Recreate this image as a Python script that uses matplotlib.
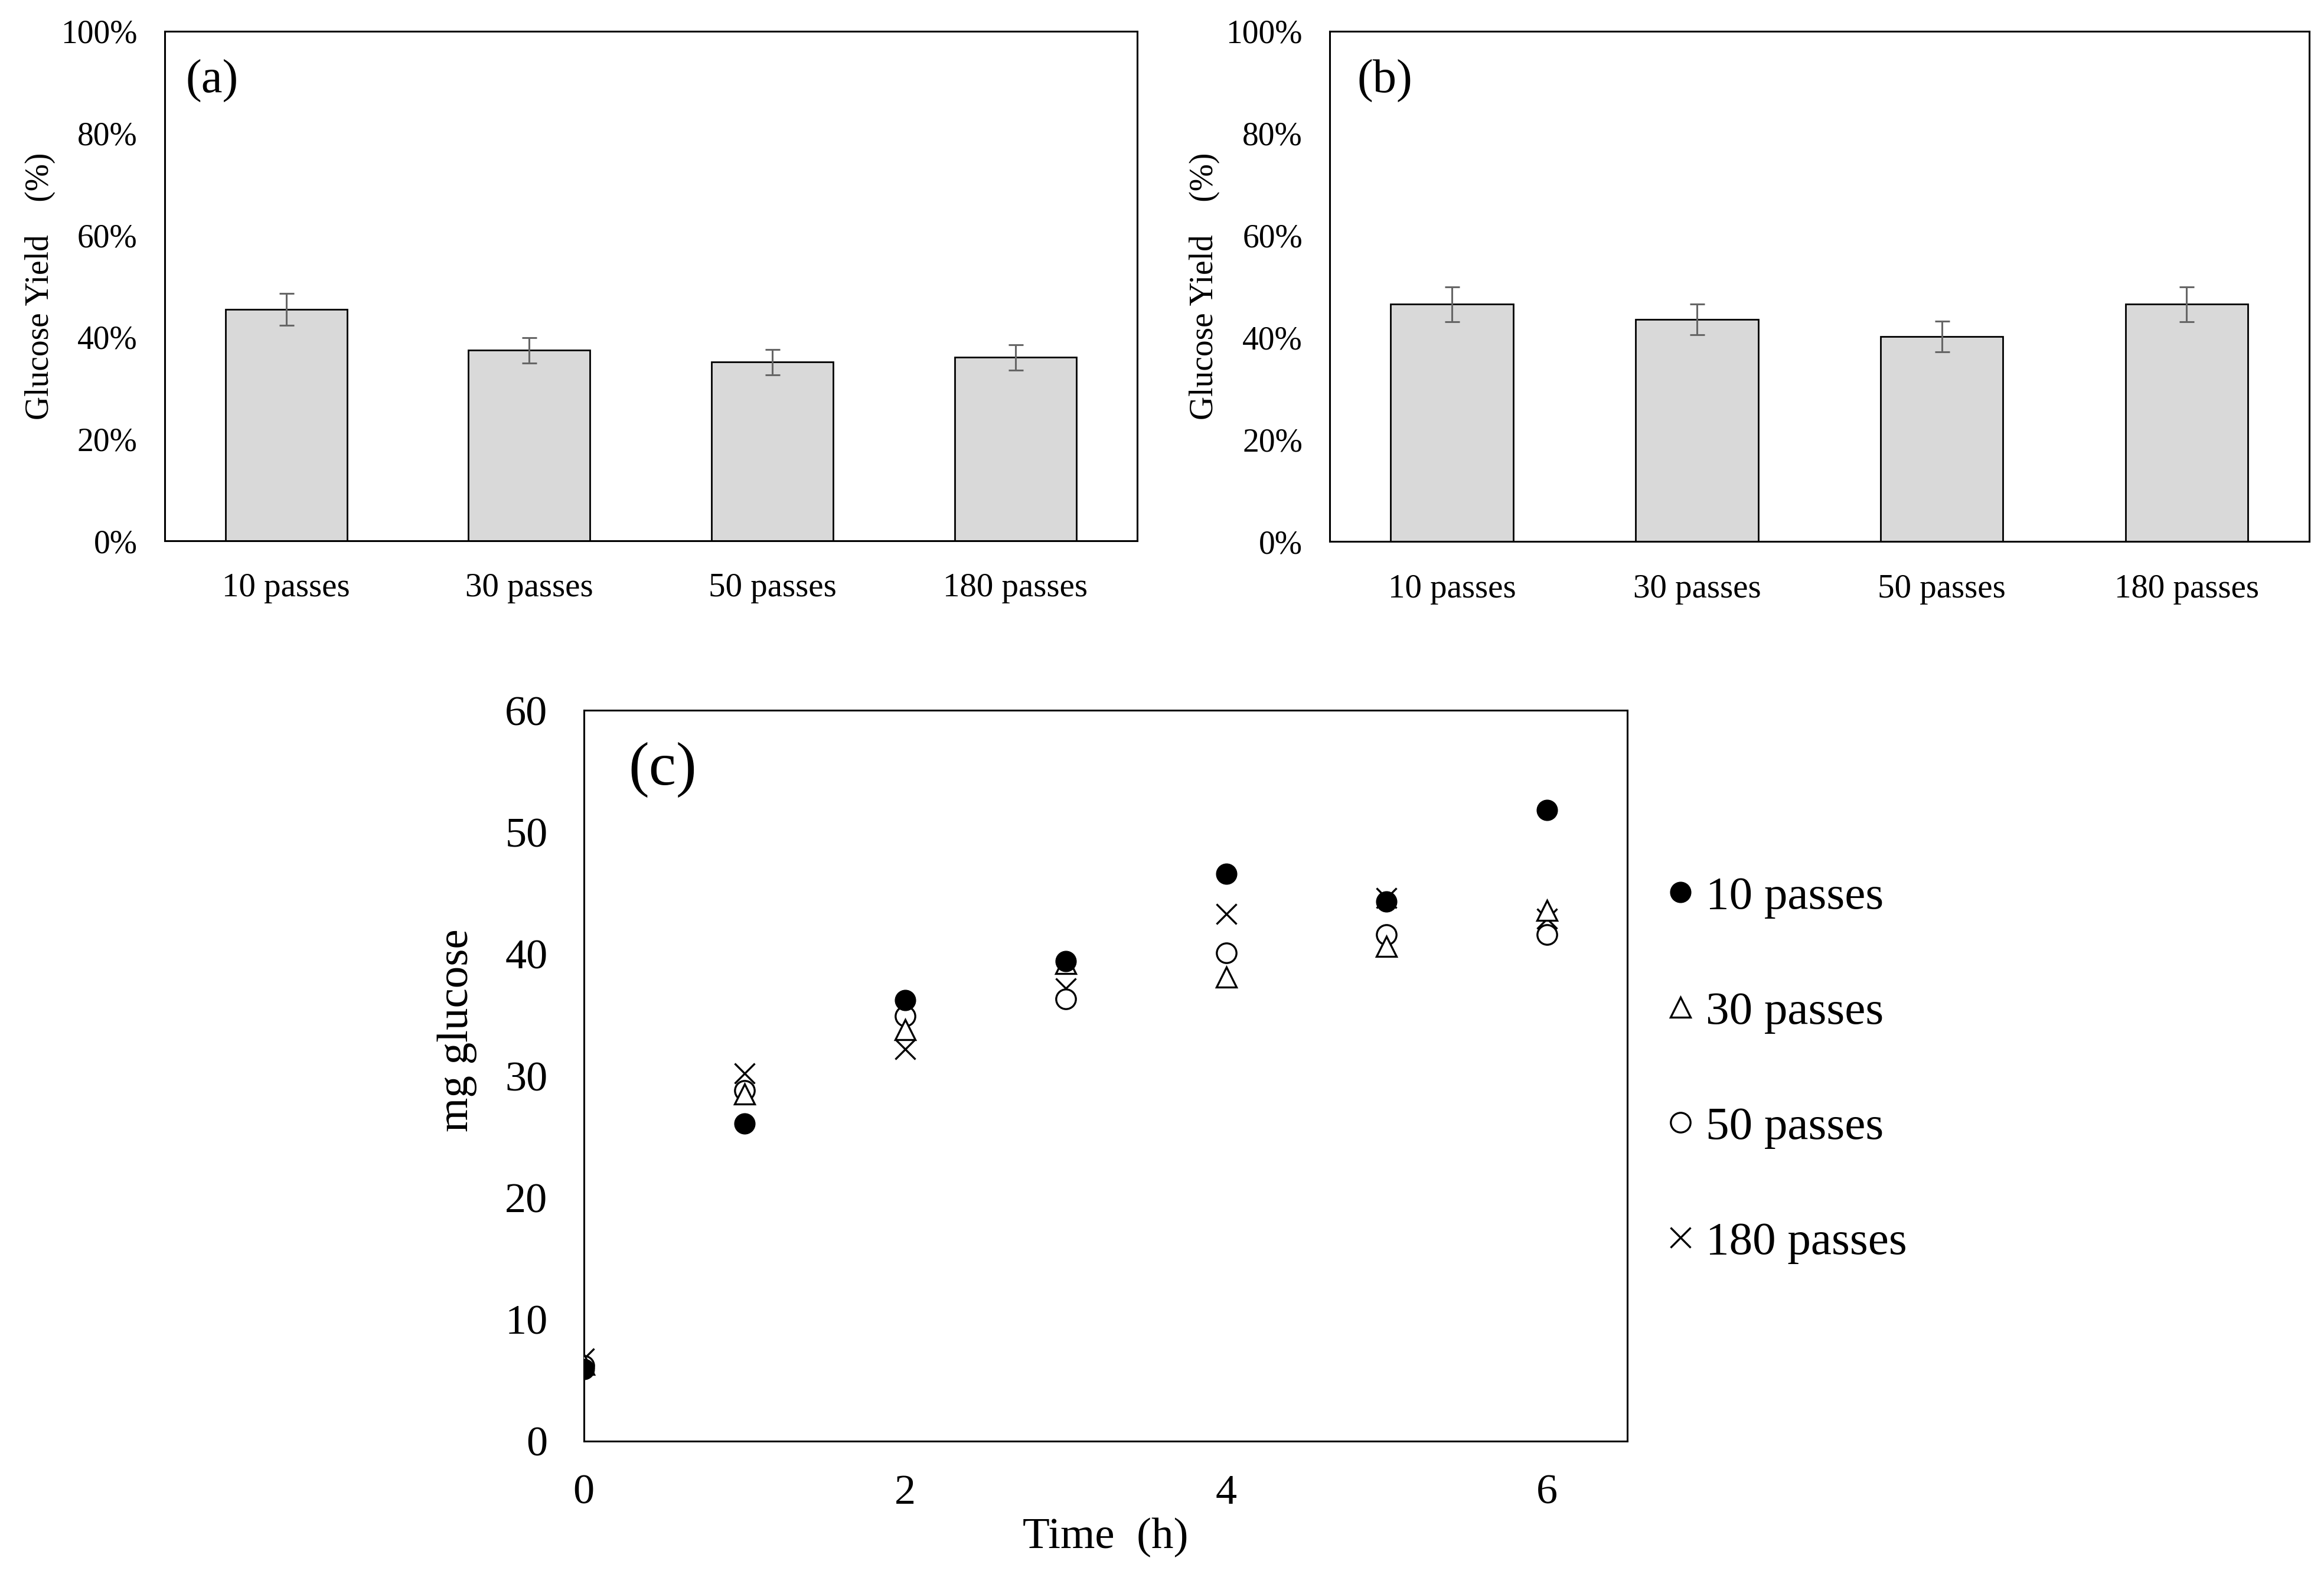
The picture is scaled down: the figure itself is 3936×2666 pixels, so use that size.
import matplotlib
matplotlib.use('Agg')
import matplotlib.pyplot as plt
from matplotlib.ticker import PercentFormatter

plt.rcParams['font.family'] = ['Liberation Serif', 'DejaVu Serif']

# bar panels (a) and (b): glucose yield in %
passes = ['10 passes', '30 passes', '50 passes', '180 passes']
yield_a = [45.4, 37.4, 35.1, 36.0]
err_a = [3.1, 2.5, 2.5, 2.5]
yield_b = [46.5, 43.5, 40.2, 46.5]
err_b = [3.4, 3.0, 3.0, 3.4]

# panel (c): mg glucose against time
time_h = [0, 1, 2, 3, 4, 5, 6]
mg_10 = [5.9, 26.1, 36.2, 39.4, 46.6, 44.3, 51.8]
mg_30 = [6.3, 28.5, 33.8, 39.2, 38.1, 40.6, 43.6]
mg_50 = [6.2, 28.8, 34.9, 36.3, 40.1, 41.6, 41.6]
mg_180 = [6.8, 30.2, 32.2, 37.2, 43.3, 44.6, 42.9]

fig = plt.figure(figsize=(39.36, 26.66), dpi=100)

def bar_panel(rect, vals, errs, tag):
    ax = fig.add_axes(rect)
    x = range(len(passes))
    ax.bar(x, vals, width=0.5, color='#d9d9d9', edgecolor='black', linewidth=2,
           yerr=errs, error_kw=dict(ecolor='#666666', elinewidth=2.2, capsize=9, capthick=2.2))
    ax.set_xlim(-0.5, 3.5)
    ax.set_ylim(0, 100)
    ax.set_xticks(list(x))
    ax.set_xticklabels(passes)
    ax.set_yticks([0, 20, 40, 60, 80, 100])
    ax.yaxis.set_major_formatter(PercentFormatter(xmax=100, decimals=0))
    ax.tick_params(axis='x', length=0, pad=39, labelsize=41)
    ax.tick_params(axis='y', length=0, pad=33, labelsize=40)
    for s in ax.spines.values():
        s.set_linewidth(2.2)
    ax.set_ylabel('Glucose Yield    (%)', fontsize=40)
    ax.yaxis.set_label_coords(-0.112, 0.5)
    ax.text(tag[1], 0.944, tag[0], transform=ax.transAxes, fontsize=58, ha='left', va='top')
    return ax

bar_panel([0.0708, 0.6563, 0.4185, 0.3239], yield_a, err_a, ('(a)', 0.0215))
bar_panel([0.5721, 0.6559, 0.4215, 0.3243], yield_b, err_b, ('(b)', 0.028))

axc = fig.add_axes([0.2512, 0.0844, 0.4491, 0.4643])
h180, = axc.plot(time_h, mg_180, 'x', color='black', markersize=25, markeredgewidth=2.4, zorder=3)
h50, = axc.plot(time_h, mg_50, 'o', markerfacecolor='white', markeredgecolor='black',
                markersize=24, markeredgewidth=2.4, zorder=4)
h30, = axc.plot(time_h, mg_30, '^', markerfacecolor='white', markeredgecolor='black',
                markersize=25, markeredgewidth=2.4, zorder=5)
h10, = axc.plot(time_h, mg_10, 'o', color='black', markersize=25, zorder=6)
axc.set_xlim(0, 6.5)
axc.set_ylim(0, 60)
axc.set_xticks([0, 2, 4, 6])
axc.set_yticks(range(0, 61, 10))
axc.tick_params(axis='x', length=0, pad=40, labelsize=52)
axc.tick_params(axis='y', length=0, pad=44, labelsize=52)
for s in axc.spines.values():
    s.set_linewidth(2.2)
axc.set_xlabel('Time  (h)', fontsize=54)
axc.xaxis.set_label_coords(0.5, -0.105)
axc.set_ylabel('mg glucose', fontsize=54)
axc.yaxis.set_label_coords(-0.102, 0.562)
axc.text(0.043, 0.957, '(c)', transform=axc.transAxes, fontsize=75, ha='left', va='top')

fig.legend([h10, h30, h50, h180], ['10 passes', '30 passes', '50 passes', '180 passes'],
           loc='center left', bbox_to_anchor=(0.717, 0.3203), frameon=False, fontsize=57,
           handlelength=0.6, handletextpad=0.25, labelspacing=1.55, borderpad=0, borderaxespad=0)

fig.savefig('out.png', dpi=100)
